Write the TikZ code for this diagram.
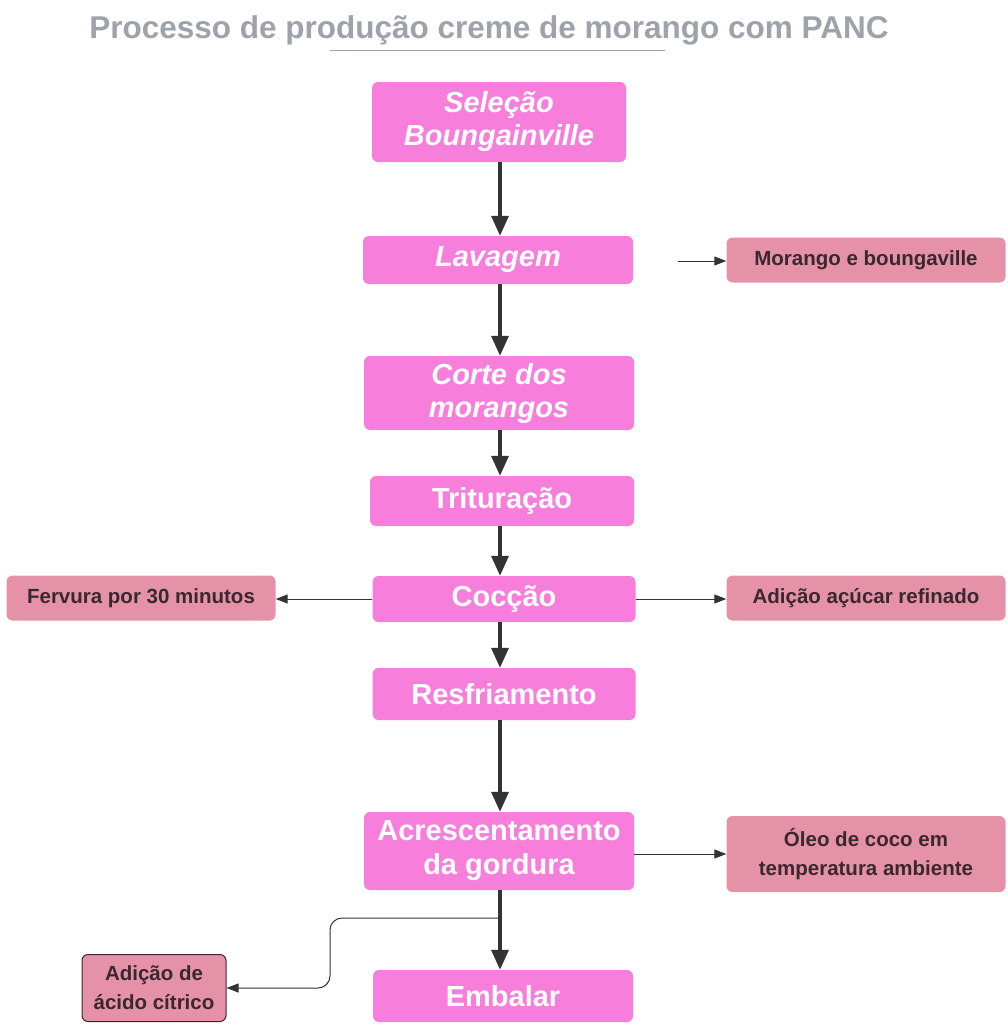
\documentclass[tikz,border=0pt]{standalone}
\usepackage{fontspec}
\setmainfont{Liberation Sans}
\usetikzlibrary{arrows.meta}
\definecolor{mainpink}{HTML}{F77FDB}
\definecolor{sidepink}{HTML}{E592A9}
\definecolor{sidetext}{HTML}{3A2830}
\definecolor{titlegrey}{HTML}{9EA2AA}
\definecolor{arrowdark}{HTML}{333333}
\tikzset{
  mainbox/.style={fill=mainpink, rounded corners=6pt, text=white, font=\bfseries\fontsize{29}{34}\selectfont, align=center, inner sep=0pt},
  mainit/.style={mainbox, font=\bfseries\itshape\fontsize{29}{33}\selectfont},
  sidebox/.style={fill=sidepink, rounded corners=6pt, text=sidetext, font=\bfseries\fontsize{20.5}{29}\selectfont, align=center, inner sep=0pt},
  mainarrow/.style={draw=arrowdark, line width=3.5pt, -{Triangle[length=20pt,width=17pt]}},
  thinarrow/.style={draw=arrowdark, line width=1pt, -{Triangle[length=12pt,width=9pt]}},
}
\begin{document}
\begin{tikzpicture}[x=1pt,y=-1pt]
\useasboundingbox[fill=white] (0,0) rectangle (1008,1025);
\node[text=titlegrey, font=\bfseries\fontsize{31.5}{34}\selectfont] (title) at (489,30) {Processo de produção creme de morango com PANC};
\coordinate (ulA) at (330,51);
\coordinate (ulB) at (665,51);
\draw[titlegrey, line width=1pt] (ulA) -- (ulB);

\node[mainit, minimum width=254pt, minimum height=80pt] (sel) at (499,122) {Seleção\\Boungainville};
\node[mainit, minimum width=270pt, minimum height=48pt] (lav) at (498,260) {Lavagem};
\node[mainit, minimum width=270pt, minimum height=74pt] (corte) at (499,393) {Corte dos\\morangos};
\node[mainbox, minimum width=264pt, minimum height=50pt] (trit) at (502,501) {Trituração};
\node[mainbox, minimum width=263pt, minimum height=46pt] (coc) at (504,599) {Cocção};
\node[mainbox, minimum width=263pt, minimum height=52pt] (resf) at (504,694) {Resfriamento};
\node[mainbox, minimum width=270pt, minimum height=78pt] (acres) at (499,851) {Acrescentamento\\da gordura};
\node[mainbox, minimum width=260pt, minimum height=52pt] (emb) at (503,996) {Embalar};

\node[sidebox, minimum width=279pt, minimum height=45pt] (mor) at (866,260) {Morango e boungaville};
\node[sidebox, minimum width=269pt, minimum height=45pt] (ferv) at (141,598) {Fervura por 30 minutos};
\node[sidebox, minimum width=279pt, minimum height=45pt] (acu) at (866,598) {Adição açúcar refinado};
\node[sidebox, minimum width=279pt, minimum height=76pt] (oleo) at (866,854) {Óleo de coco em\\temperatura ambiente};
\node[sidebox, draw=sidetext, line width=1pt, minimum width=144pt, minimum height=67pt] (acido) at (154,988) {Adição de\\ácido cítrico};

\coordinate (cx) at (500,0);
\draw[mainarrow] (sel.south -| cx) -- (lav.north -| cx);
\draw[mainarrow] (lav.south -| cx) -- (corte.north -| cx);
\draw[mainarrow] (corte.south -| cx) -- (trit.north -| cx);
\draw[mainarrow] (trit.south -| cx) -- (coc.north -| cx);
\draw[mainarrow] (coc.south -| cx) -- (resf.north -| cx);
\draw[mainarrow] (resf.south -| cx) -- (acres.north -| cx);
\draw[mainarrow] (acres.south -| cx) -- (emb.north -| cx);

\coordinate (morstart) at (678,261);
\draw[thinarrow] (morstart) -- (mor.west |- morstart);
\draw[thinarrow] (coc.west) -- (ferv.east |- coc.west);
\draw[thinarrow] (coc.east) -- (acu.west |- coc.east);
\draw[thinarrow] (acres.east |- oleo.west) -- (oleo.west);
\coordinate (branch) at (498,918);
\coordinate (bend) at (330,918);
\draw[thinarrow, rounded corners=12pt] (branch) -- (bend) -- (bend |- acido.east) -- (acido.east);
\end{tikzpicture}
\end{document}
